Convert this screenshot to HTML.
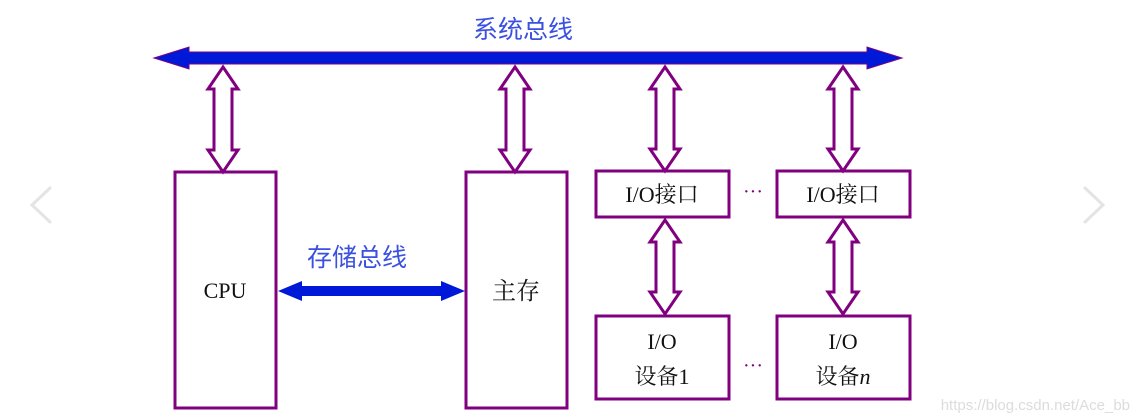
<!DOCTYPE html>
<html><head><meta charset="utf-8"><style>
html,body{margin:0;padding:0;background:#fff;}
svg{display:block;}
</style></head><body>
<svg width="1135" height="420" xmlns="http://www.w3.org/2000/svg">
<g fill="#fff" stroke="#800080" stroke-width="3">
<rect x="175" y="172" width="101" height="236"/>
<rect x="466" y="172" width="101" height="236"/>
<rect x="596" y="171" width="133" height="46"/>
<rect x="777" y="171" width="133" height="46"/>
<rect x="596" y="316" width="133" height="83"/>
<rect x="777" y="316" width="133" height="83"/>
</g>
<g fill="#fff" stroke="#800080" stroke-width="3" stroke-linejoin="miter">
<polygon points="223,67 238,89 232,89 232,150 238,150 223,172 208,150 214,150 214,89 208,89"/>
<polygon points="515,67 530,89 524,89 524,150 530,150 515,172 500,150 506,150 506,89 500,89"/>
<polygon points="665,67 680,89 674,89 674,149 680,149 665,171 650,149 656,149 656,89 650,89"/>
<polygon points="843,67 858,89 852,89 852,149 858,149 843,171 828,149 834,149 834,89 828,89"/>
<polygon points="665,220 680,242 674,242 674,292 680,292 665,314 650,292 656,292 656,242 650,242"/>
<polygon points="843,220 858,242 852,242 852,292 858,292 843,314 828,292 834,292 834,242 828,242"/>
</g>
<polygon points="154,58 189,47 189,52 867,52 867,47 902,58 867,69 867,64 189,64 189,69" fill="#0018d8" stroke="#800080" stroke-width="1"/>
<polygon points="278,291 302,281 302,286 441,286 441,281 465,291 441,301 441,296 302,296 302,301" fill="#0018d8"/>
<g font-family="'Liberation Sans','Noto Sans CJK SC',sans-serif" fill="#3a50e0" font-size="25">
<text x="473" y="38">系统总线</text>
<text x="307" y="266">存储总线</text>
</g>
<g font-family="'Liberation Serif','Noto Serif CJK SC',serif" fill="#111" font-size="22" text-anchor="middle">
<text x="225" y="298">CPU</text>
<text x="516" y="299" font-size="24">主存</text>
<text x="662" y="202">I/O接口</text>
<text x="843" y="202">I/O接口</text>
<text x="662" y="349">I/O</text>
<text x="662" y="384">设备1</text>
<text x="843" y="349">I/O</text>
<text x="843" y="384">设备<tspan font-style="italic">n</tspan></text>
</g>
<g font-family="'Liberation Serif',serif" fill="#800080" font-size="20" text-anchor="middle">
<text x="753" y="198">···</text>
<text x="753" y="372">···</text>
</g>
<g fill="none" stroke="#e4e4e4" stroke-width="3" stroke-linecap="round">
<polyline points="50,188 32,205 50,222"/>
<polyline points="1085,188 1103,205 1085,222"/>
</g>
<text x="1130" y="410" text-anchor="end" font-family="'Liberation Sans',sans-serif" font-size="15" fill="#dcdcdc">https://blog.csdn.net/Ace_bb</text>
</svg>
</body></html>
